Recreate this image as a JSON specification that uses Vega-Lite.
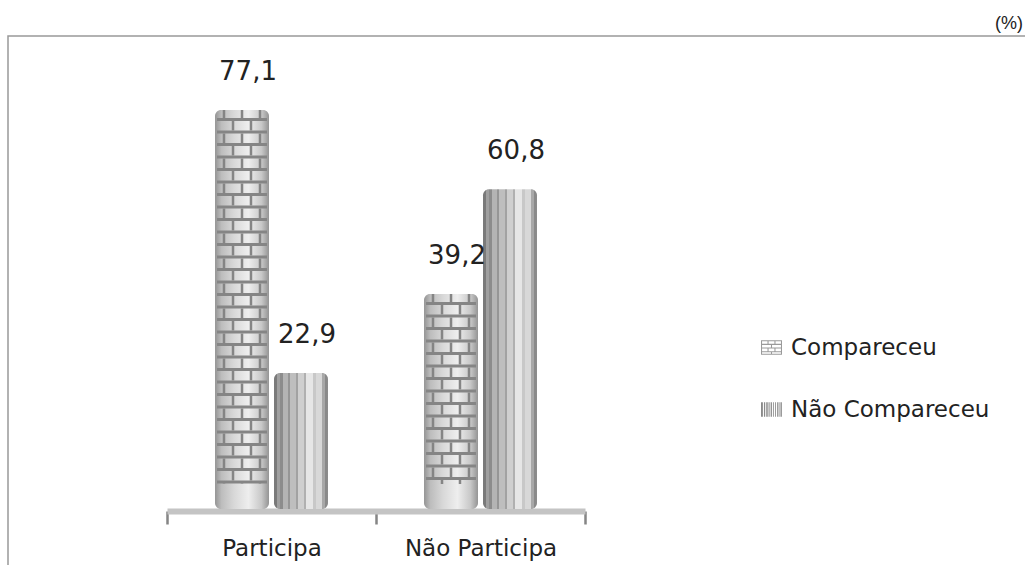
{
  "$schema": "https://vega.github.io/schema/vega-lite/v6.json",
  "width": 1019,
  "height": 540,
  "autosize": {"type": "none"},
  "padding": {"left": 8, "top": 36, "right": 0, "bottom": 0},
  "background": "white",
  "config": {
    "view": {"stroke": "#999999", "strokeWidth": 1.5},
    "locale": {"number": {"decimal": ",", "thousands": ".", "grouping": [3], "currency": ["R$", ""]}}
  },
  "title": {"text": "(%)", "anchor": "end", "frame": "group", "fontSize": 18, "font": "Liberation Sans", "fontWeight": "normal", "color": "#222222", "dx": -4, "offset": 3},
  "data": {"values": [
    {"grupo": "Participa", "situacao": "Compareceu", "valor": 77.1},
    {"grupo": "Participa", "situacao": "Não Compareceu", "valor": 22.9},
    {"grupo": "Não Participa", "situacao": "Compareceu", "valor": 39.2},
    {"grupo": "Não Participa", "situacao": "Não Compareceu", "valor": 60.8}
  ]},
  "encoding": {
    "x": {"field": "grupo", "type": "nominal", "sort": ["Participa", "Não Participa"],
      "scale": {"range": [159, 577], "paddingInner": 0, "paddingOuter": 0},
      "axis": {"title": null, "orient": "bottom", "offset": -65, "domainColor": "#c4c4c4", "domainWidth": 6, "domainCap": "butt",
        "tickBand": "extent", "tickColor": "#858585", "tickWidth": 2.5, "tickSize": 13,
        "labelFont": "DejaVu Sans", "labelFontSize": 23, "labelColor": "#222222", "labelBaseline": "alphabetic", "labelPadding": 31, "labelAngle": 0}},
    "y": {"field": "valor", "type": "quantitative", "stack": null,
      "scale": {"domain": [-5.15, 92.38], "range": [473, 0], "nice": false, "zero": false}, "axis": null}
  },
  "layer": [
    {
      "mark": {"type": "bar", "cornerRadius": 6, "strokeWidth": 0},
      "encoding": {
        "xOffset": {"field": "situacao", "type": "nominal", "sort": ["Compareceu", "Não Compareceu"],
          "scale": {"domain": ["Compareceu", "Não Compareceu"], "paddingInner": 0.085, "paddingOuter": 0.814}},
        "y2": {"datum": -5.15},
        "fill": {
          "condition": {"test": "datum.situacao === 'Compareceu'", "value":
            {"gradient": "linear", "x1": 0, "y1": 0, "x2": 1, "y2": 0, "stops": [
              {"offset": 0, "color": "#949494"}, {"offset": 0.12, "color": "#bdbdbd"}, {"offset": 0.35, "color": "#d8d8d8"},
              {"offset": 0.62, "color": "#eeeeee"}, {"offset": 0.86, "color": "#c8c8c8"}, {"offset": 1, "color": "#949494"}]}},
          "value":
            {"gradient": "linear", "x1": 0, "y1": 0, "x2": 1, "y2": 0, "stops": [
              {"offset": 0, "color": "#7a7a7a"}, {"offset": 0.05, "color": "#7a7a7a"},
              {"offset": 0.05, "color": "#a0a0a0"}, {"offset": 0.12, "color": "#a0a0a0"},
              {"offset": 0.12, "color": "#8c8c8c"}, {"offset": 0.17, "color": "#8c8c8c"},
              {"offset": 0.17, "color": "#b4b4b4"}, {"offset": 0.25, "color": "#b4b4b4"},
              {"offset": 0.25, "color": "#969696"}, {"offset": 0.3, "color": "#969696"},
              {"offset": 0.3, "color": "#bebebe"}, {"offset": 0.4, "color": "#bebebe"},
              {"offset": 0.4, "color": "#a2a2a2"}, {"offset": 0.45, "color": "#a2a2a2"},
              {"offset": 0.45, "color": "#cfcfcf"}, {"offset": 0.55, "color": "#cfcfcf"},
              {"offset": 0.55, "color": "#b0b0b0"}, {"offset": 0.6, "color": "#b0b0b0"},
              {"offset": 0.6, "color": "#e6e6e6"}, {"offset": 0.72, "color": "#e6e6e6"},
              {"offset": 0.72, "color": "#c8c8c8"}, {"offset": 0.78, "color": "#c8c8c8"},
              {"offset": 0.78, "color": "#d8d8d8"}, {"offset": 0.88, "color": "#d8d8d8"},
              {"offset": 0.88, "color": "#a8a8a8"}, {"offset": 0.94, "color": "#a8a8a8"},
              {"offset": 0.94, "color": "#8a8a8a"}, {"offset": 1, "color": "#8a8a8a"}]}
        }
      }
    },
    {
      "transform": [{"filter": "datum.situacao === 'Compareceu'"}],
      "mark": {"type": "rule", "strokeWidth": 50, "strokeDash": [3, 9.5], "strokeDashOffset": -8, "color": "#858585"},
      "encoding": {
        "xOffset": {"field": "situacao", "type": "nominal", "sort": ["Compareceu", "Não Compareceu"]},
        "y2": {"datum": 0}}
    },
    {
      "transform": [{"filter": "datum.situacao === 'Compareceu'"}],
      "mark": {"type": "rule", "strokeWidth": 2.5, "strokeDash": [9.5, 15.5], "strokeDashOffset": -11, "color": "#858585"},
      "encoding": {
        "x": {"field": "grupo", "type": "nominal", "sort": ["Participa", "Não Participa"], "bandPosition": 0.3158},
        "y2": {"datum": 0}}
    },
    {
      "transform": [{"filter": "datum.situacao === 'Compareceu'"}],
      "mark": {"type": "rule", "strokeWidth": 2.5, "strokeDash": [9.5, 15.5], "strokeDashOffset": -11, "color": "#858585"},
      "encoding": {
        "x": {"field": "grupo", "type": "nominal", "sort": ["Participa", "Não Participa"], "bandPosition": 0.4019},
        "y2": {"datum": 0}}
    },
    {
      "transform": [{"filter": "datum.situacao === 'Compareceu'"}],
      "mark": {"type": "rule", "strokeWidth": 2.5, "strokeDash": [9.5, 15.5], "strokeDashOffset": -23.5, "color": "#858585"},
      "encoding": {
        "x": {"field": "grupo", "type": "nominal", "sort": ["Participa", "Não Participa"], "bandPosition": 0.2727},
        "y2": {"datum": 0}}
    },
    {
      "transform": [{"filter": "datum.situacao === 'Compareceu'"}],
      "mark": {"type": "rule", "strokeWidth": 2.5, "strokeDash": [9.5, 15.5], "strokeDashOffset": -23.5, "color": "#858585"},
      "encoding": {
        "x": {"field": "grupo", "type": "nominal", "sort": ["Participa", "Não Participa"], "bandPosition": 0.3589},
        "y2": {"datum": 0}}
    },
    {
      "transform": [{"filter": "datum.situacao === 'Compareceu'"}],
      "mark": {"type": "rule", "strokeWidth": 2.5, "strokeDash": [9.5, 15.5], "strokeDashOffset": -23.5, "color": "#858585"},
      "encoding": {
        "x": {"field": "grupo", "type": "nominal", "sort": ["Participa", "Não Participa"], "bandPosition": 0.445},
        "y2": {"datum": 0}}
    },
    {
      "mark": {"type": "point", "filled": true, "opacity": 0},
      "encoding": {
        "xOffset": {"field": "situacao", "type": "nominal", "sort": ["Compareceu", "Não Compareceu"]},
        "fill": {"field": "situacao", "type": "nominal",
          "scale": {"domain": ["Compareceu", "Não Compareceu"], "range": ["#9a9a9a", "#8a8a8a"]},
          "legend": {"title": null, "orient": "none", "legendX": 752, "legendY": 300, "direction": "vertical",
            "symbolSize": 441, "symbolStrokeWidth": 0, "symbolOpacity": 1,
            "labelFont": "DejaVu Sans", "labelFontSize": 23, "labelColor": "#222222", "labelOffset": 8, "rowPadding": 38, "labelLimit": 400}},
        "shape": {"field": "situacao", "type": "nominal",
          "scale": {"domain": ["Compareceu", "Não Compareceu"], "range": [
            "M-1,-0.7H1V-0.6H-1Z M-1,-0.35H1V-0.25H-1Z M-1,0H1V0.1H-1Z M-1,0.35H1V0.45H-1Z M-1,0.6H1V0.7H-1Z M-1,-0.7H-0.9V0.7H-1Z M0.9,-0.7H1V0.7H0.9Z M-0.38,-0.6H-0.28V-0.35H-0.38Z M0.28,-0.6H0.38V-0.35H0.28Z M-0.05,-0.25H0.05V0H-0.05Z M-0.38,0.1H-0.28V0.35H-0.38Z M0.28,0.1H0.38V0.35H0.28Z M-0.05,0.45H0.05V0.6H-0.05Z",
            "M-1,-0.7H-0.82V0.7H-1Z M-0.72,-0.7H-0.6V0.7H-0.72Z M-0.5,-0.7H-0.36V0.7H-0.5Z M-0.28,-0.7H-0.18V0.7H-0.28Z M-0.08,-0.7H0.04V0.7H-0.08Z M0.14,-0.7H0.22V0.7H0.14Z M0.34,-0.7H0.42V0.7H0.34Z M0.54,-0.7H0.66V0.7H0.54Z M0.76,-0.7H0.86V0.7H0.76Z M0.92,-0.7H1V0.7H0.92Z"
          ]},
          "legend": {"title": null, "orient": "none", "legendX": 752, "legendY": 300, "direction": "vertical",
            "symbolSize": 441, "symbolStrokeWidth": 0, "symbolOpacity": 1,
            "labelFont": "DejaVu Sans", "labelFontSize": 23, "labelColor": "#222222", "labelOffset": 8, "rowPadding": 38, "labelLimit": 400}}
      }
    },
    {
      "mark": {"type": "text", "baseline": "alphabetic", "align": "center", "dy": -30, "dx": 6, "fontSize": 26, "font": "DejaVu Sans", "color": "#222222"},
      "encoding": {
        "xOffset": {"field": "situacao", "type": "nominal", "sort": ["Compareceu", "Não Compareceu"]},
        "text": {"field": "valor", "type": "quantitative", "format": ".1f"}}
    }
  ]
}
